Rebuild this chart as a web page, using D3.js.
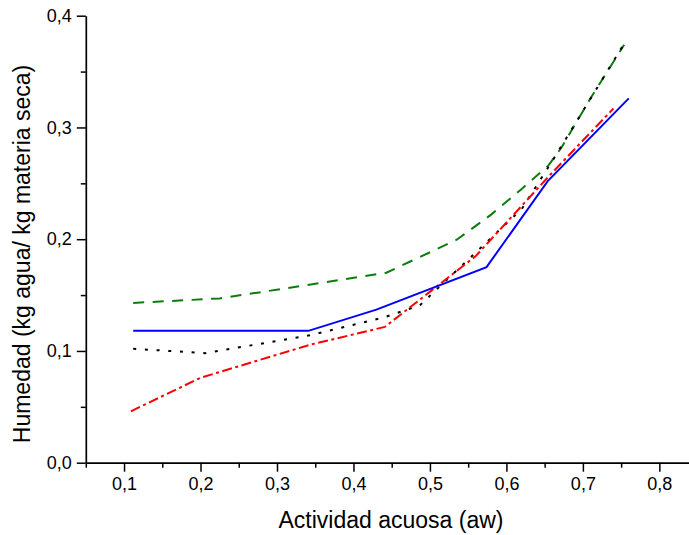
<!DOCTYPE html>
<html>
<head>
<meta charset="utf-8">
<script src="https://cdn.jsdelivr.net/npm/d3@7"></script>
<style>
	body { margin: 0; background: #fff; }
	svg { display: block; font-family: "Liberation Sans", Arial, sans-serif; }
</style>
</head>
<body>
<script>
	var width = 689;
	var height = 535;

	// series: [aw, humedad]
	var serieAzul = [[0.112, 0.118], [0.341, 0.118], [0.43, 0.137], [0.574, 0.175], [0.654, 0.252], [0.76, 0.326]];
	var serieRoja = [[0.109, 0.046], [0.2, 0.076], [0.343, 0.1055], [0.441, 0.1215], [0.56, 0.185], [0.655, 0.256], [0.74, 0.317]];
	var serieNegra = [[0.112, 0.102], [0.206, 0.098], [0.343, 0.114], [0.44, 0.13], [0.487, 0.141], [0.62, 0.227], [0.66, 0.27], [0.754, 0.375]];
	var serieVerde = [[0.112, 0.143], [0.225, 0.147], [0.33, 0.158], [0.443, 0.17], [0.535, 0.1995], [0.58, 0.222], [0.62, 0.245], [0.655, 0.266], [0.672, 0.282], [0.709, 0.325], [0.754, 0.374]];

	var xTicks = [0.1, 0.2, 0.3, 0.4, 0.5, 0.6, 0.7, 0.8];
	var xMinor = [0.05, 0.15, 0.25, 0.35, 0.45, 0.55, 0.65, 0.75, 0.85];
	var yTicks = [0, 0.1, 0.2, 0.3, 0.4];
	var yMinor = [0.05, 0.15, 0.25, 0.35];

	var series = [
		{ data: serieVerde, color: "#0a7d0a", dash: "11,8.5" },
		{ data: serieNegra, color: "#000", dash: "3,8.7" },
		{ data: serieRoja, color: "#ff0000", dash: "10,3.5,3,3.5" },
		{ data: serieAzul, color: "#0000ff", dash: null }
	];

	var svg = d3.select("body").append("svg").attr("width", width).attr("height", height);

	var x = d3.scaleLinear().domain([0.05, 0.85]).range([85.8, 697.6]);
	var y = d3.scaleLinear().domain([0, 0.4]).range([462.7, 15.7]);

	var fmt = function(d) { return d3.format(".1f")(d).replace(".", ","); };

	// minor ticks first
	svg.append("g").attr("transform", "translate(0," + y(0) + ")")
		.call(d3.axisBottom(x).tickValues(xMinor).tickSize(5).tickSizeOuter(0).tickFormat(""))
		.call(function(g) { g.select(".domain").remove(); });
	svg.append("g").attr("transform", "translate(" + x(0.05) + ",0)")
		.call(d3.axisLeft(y).tickValues(yMinor).tickSize(5).tickSizeOuter(0).tickFormat(""))
		.call(function(g) { g.select(".domain").remove(); });

	var xAxis = svg.append("g").attr("transform", "translate(0," + y(0) + ")")
		.call(d3.axisBottom(x).tickValues(xTicks).tickSize(9).tickSizeOuter(0).tickPadding(6).tickFormat(fmt));
	var yAxis = svg.append("g").attr("transform", "translate(" + x(0.05) + ",0)")
		.call(d3.axisLeft(y).tickValues(yTicks).tickSize(9).tickSizeOuter(0).tickPadding(5).tickFormat(fmt));

	svg.selectAll(".tick line").attr("stroke", "#000").attr("stroke-width", 1.5);
	svg.selectAll(".domain").attr("stroke", "#000").attr("stroke-width", 1.7);
	xAxis.selectAll("text").attr("font-size", 18).attr("fill", "#000").attr("font-family", null);
	yAxis.selectAll("text").attr("font-size", 18).attr("fill", "#000").attr("font-family", null);

	var line = d3.line().x(function(d) { return x(d[0]); }).y(function(d) { return y(d[1]); });

	series.forEach(function(s) {
		svg.append("path").datum(s.data)
			.attr("d", line)
			.attr("fill", "none")
			.attr("stroke", s.color)
			.attr("stroke-width", 2)
			.attr("stroke-dasharray", s.dash);
	});

	svg.append("text")
		.attr("x", 391).attr("y", 528)
		.attr("text-anchor", "middle")
		.attr("font-size", 23)
		.text("Actividad acuosa (aw)");

	svg.append("text")
		.attr("transform", "translate(30,254) rotate(-90)")
		.attr("text-anchor", "middle")
		.attr("font-size", 23)
		.text("Humedad (kg agua/ kg materia seca)");
</script>
</body>
</html>
